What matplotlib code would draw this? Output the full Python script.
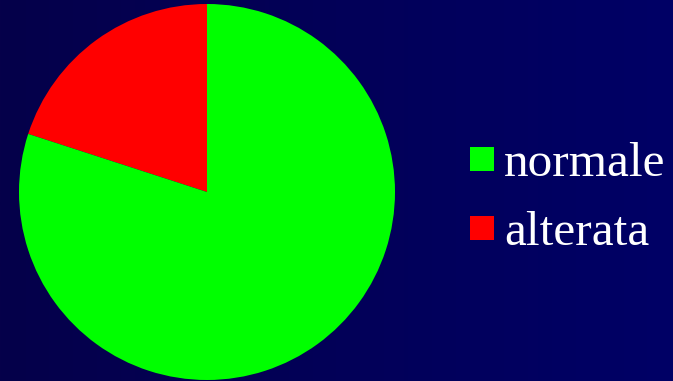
import numpy as np
import matplotlib.pyplot as plt
from matplotlib.patches import Rectangle
from matplotlib.colors import LinearSegmentedColormap

# === Data
labels = ["normale", "alterata"]
values = [80, 20]
colors = ["#00ff00", "#ff0000"]

W, H = 673, 381
fig = plt.figure(figsize=(W / 100, H / 100), dpi=100)

# === Background (slight navy gradient)
bg = fig.add_axes([0, 0, 1, 1])
grad = np.linspace(0, 1, 256).reshape(1, -1)
cmap = LinearSegmentedColormap.from_list("bg", ["#05004a", "#000066"])
bg.imshow(grad, aspect="auto", cmap=cmap, extent=[0, 1, 0, 1])
bg.set_xlim(0, 1)
bg.set_ylim(0, 1)
bg.axis("off")

# === Pie
cx, cy, r = 207, 192, 188
ax = fig.add_axes([(cx - r) / W, (H - cy - r) / H, 2 * r / W, 2 * r / H])
ax.pie(values[::-1], colors=colors[::-1], startangle=90, counterclock=True,
       radius=1, wedgeprops=dict(linewidth=0))
ax.set_xlim(-1, 1)
ax.set_ylim(-1, 1)
ax.set_aspect("auto")
ax.axis("off")

# === Legend (manual)
sq = 24
for i, (lab, col) in enumerate(zip(labels, colors)):
    top = 147 + i * 69
    bg.add_patch(Rectangle((470 / W, (H - top - sq) / H), sq / W, sq / H,
                           facecolor=col, edgecolor="none", transform=bg.transAxes))
    fig.text(504 / W, (H - (176 + i * 69)) / H, lab, color="white",
             fontsize=35.5, family="Liberation Serif", va="baseline", ha="left")

fig.savefig("out.png", dpi=100)
